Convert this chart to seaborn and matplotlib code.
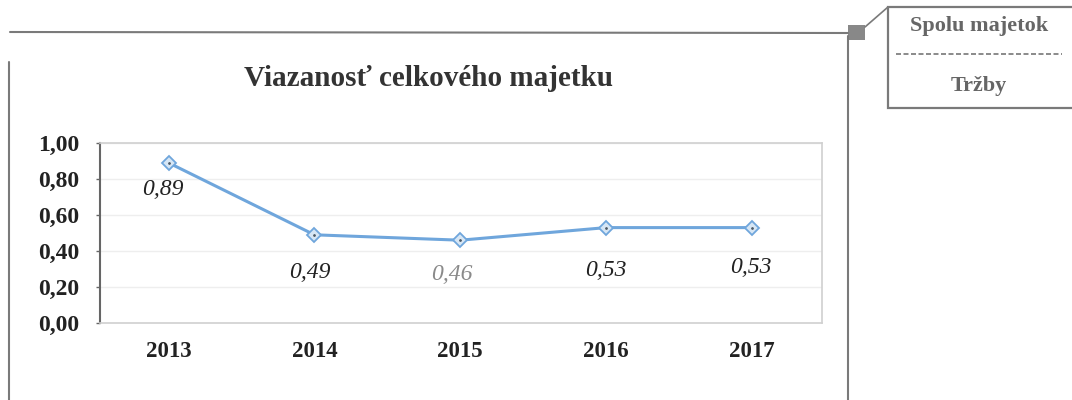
import matplotlib
matplotlib.use("Agg")
import matplotlib.pyplot as plt
import seaborn as sns
import pandas as pd
from matplotlib.lines import Line2D
from matplotlib.patches import Rectangle

years = ["2013", "2014", "2015", "2016", "2017"]
values = [0.89, 0.49, 0.46, 0.53, 0.53]
value_labels = ["0,89", "0,49", "0,46", "0,53", "0,53"]
y_ticks = [0.0, 0.2, 0.4, 0.6, 0.8, 1.0]
y_tick_labels = ["0,00", "0,20", "0,40", "0,60", "0,80", "1,00"]
title = "Viazanosť celkového majetku"
legend_items = ["Spolu majetok", "Tržby"]

sns.set_theme(style="white")
plt.rcParams['font.family'] = ['Liberation Serif', 'DejaVu Serif']

df = pd.DataFrame({"rok": years, "hodnota": values})

W, H = 1072, 400
fig = plt.figure(figsize=(W / 100, H / 100), dpi=100)
fig.patch.set_facecolor("white")

def fx(px):
    return px / W

def fy(py):
    return 1 - py / H

ax = fig.add_axes([fx(100), fy(323), fx(822 - 100), (323 - 143) / H])
sns.lineplot(data=df, x="rok", y="hodnota", ax=ax, color="#6fa6dc", linewidth=2.2,
             marker="D", markersize=7, markerfacecolor="#d6e6f5",
             markeredgecolor="#6fa6dc", markeredgewidth=1.3)
sns.scatterplot(data=df, x="rok", y="hodnota", ax=ax, color="#4a5a6a", s=5, zorder=5)

ax.set_xlim(-0.47, 4.48)
ax.set_ylim(0, 1.0)
ax.set_yticks(y_ticks)
ax.set_yticklabels(y_tick_labels, fontsize=17, fontweight="bold", color="#222222")
ax.set_xticks(range(len(years)))
ax.set_xticklabels(years, fontsize=16.5, fontweight="bold", color="#222222")
ax.set_xlabel("")
ax.set_ylabel("")
ax.tick_params(axis="y", length=3, width=1, color="#666666", pad=12, left=True)
ax.tick_params(axis="x", length=0, pad=13)
ax.grid(axis="y", color="#eeeeee", linewidth=1)
for side in ["top", "right", "bottom"]:
    ax.spines[side].set_color("#d0d0d0")
    ax.spines[side].set_linewidth(1.2)
ax.spines["left"].set_color("#666666")
ax.spines["left"].set_linewidth(1.5)

offsets = [(-4, -19), (-3, -27), (-6, -25), (0, -31), (-1, -29)]
label_colors = ["#222222", "#222222", "#8a8a8a", "#222222", "#222222"]
for i, (v, lab) in enumerate(zip(values, value_labels)):
    ax.annotate(lab, (i, v), xytext=offsets[i], textcoords="offset points",
                ha="center", va="center", fontsize=17, fontstyle="italic",
                color=label_colors[i])

fig.text(fx(429), fy(79), title, ha="center", va="center",
         fontsize=21, fontweight="bold", color="#333333")

# outer chart frame
frame = "#7a7a7a"
fig.add_artist(Line2D([fx(10), fx(848)], [fy(32), fy(33)], color=frame, lw=1.5))
fig.add_artist(Line2D([fx(9), fx(9)], [fy(62), fy(400)], color=frame, lw=1.5))
fig.add_artist(Line2D([fx(848), fx(848)], [fy(36), fy(400)], color=frame, lw=1.5))
fig.add_artist(Rectangle((fx(848), fy(40)), fx(17), 15 / H, facecolor="#888888",
                         edgecolor="none"))

# callout box with legend names
fig.add_artist(Line2D([fx(865), fx(888)], [fy(27), fy(7)], color=frame, lw=1.2))
fig.add_artist(Rectangle((fx(888), fy(108)), fx(200), 101 / H, facecolor="white",
                         edgecolor=frame, lw=1.6))
fig.add_artist(Line2D([fx(896), fx(1062)], [fy(54), fy(54)], color="#777777",
                      lw=1.2, ls=(0, (3, 1.5))))
fig.text(fx(979), fy(26), legend_items[0], ha="center", va="center",
         fontsize=16, fontweight="bold", color="#666666")
fig.text(fx(979), fy(86), legend_items[1], ha="center", va="center",
         fontsize=16, fontweight="bold", color="#666666")

fig.savefig("out.png", dpi=100, facecolor="white")
